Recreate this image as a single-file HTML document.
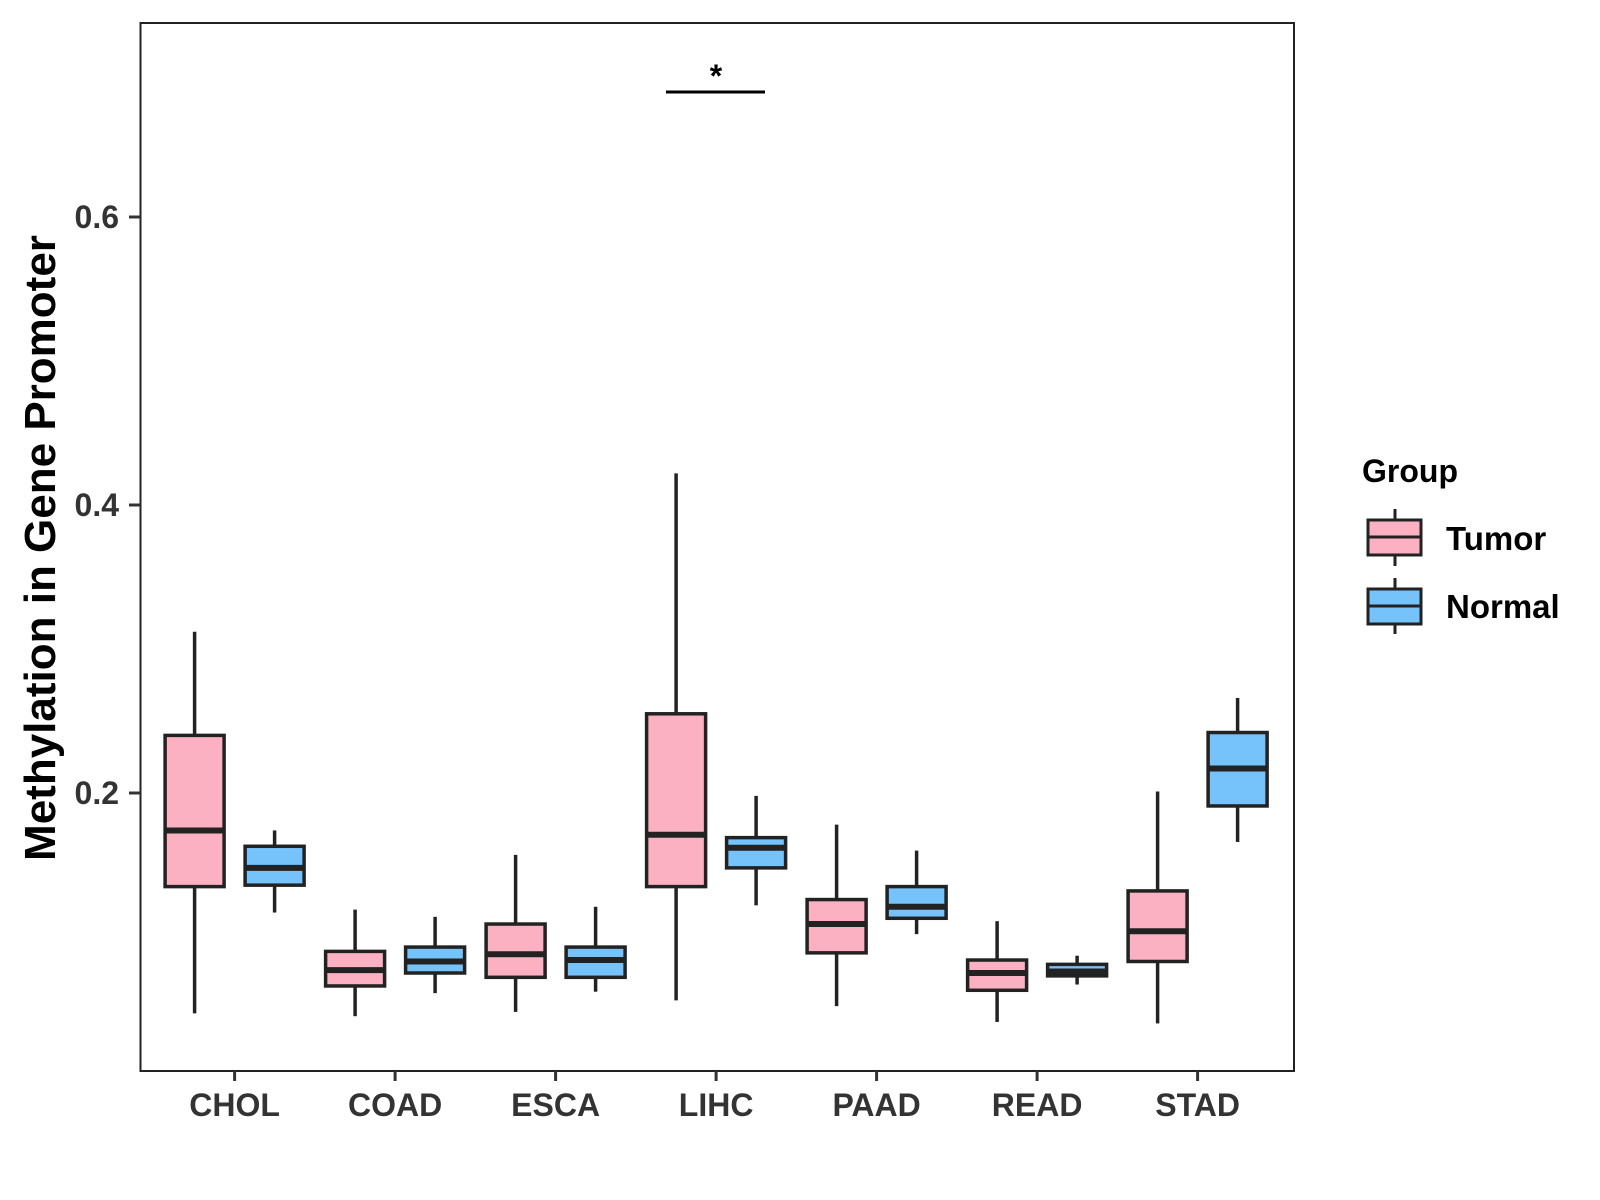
<!DOCTYPE html>
<html><head><meta charset="utf-8"><style>
html,body{margin:0;padding:0;background:#fff;}
svg{display:block;font-family:"Liberation Sans",Arial,sans-serif;}
</style></head><body>
<svg id="chart" width="1600" height="1200" xmlns="http://www.w3.org/2000/svg">
<rect x="140.5" y="23" width="1153.5" height="1048" fill="#fff" stroke="#222" stroke-width="2"/>
<g id="marks"></g>
<g id="axes"></g>
<g>
<line x1="666" y1="92" x2="765" y2="92" stroke="#000" stroke-width="3"/>
<text x="716" y="87" text-anchor="middle" font-size="32" font-weight="bold">*</text>
</g>
<text transform="translate(55,548) rotate(-90)" text-anchor="middle" font-size="44" font-weight="bold" fill="#000">Methylation in Gene Promoter</text>
<g>
<text x="1362" y="482" font-size="32" font-weight="bold">Group</text>
<g>
<line x1="1395" y1="509" x2="1395" y2="566" stroke="#222" stroke-width="3"/>
<rect x="1368" y="520" width="53" height="35" fill="#FCB1C3" stroke="#222" stroke-width="3"/>
<line x1="1368" y1="537" x2="1421" y2="537" stroke="#222" stroke-width="3"/>
<text x="1446" y="550" font-size="33" font-weight="bold">Tumor</text>
</g>
<g>
<line x1="1395" y1="578" x2="1395" y2="634" stroke="#222" stroke-width="3"/>
<rect x="1368" y="589" width="53" height="35" fill="#76C2FA" stroke="#222" stroke-width="3"/>
<line x1="1368" y1="606" x2="1421" y2="606" stroke="#222" stroke-width="3"/>
<text x="1446" y="618" font-size="33" font-weight="bold">Normal</text>
</g>
</g>
</svg>
<script>
const categories = ["CHOL","COAD","ESCA","LIHC","PAAD","READ","STAD"];
// [low, q1, median, q3, high]
const tumorStats = [
 [0.047,0.135,0.174,0.240,0.312],
 [0.045,0.066,0.077,0.090,0.119],
 [0.048,0.072,0.088,0.109,0.157],
 [0.056,0.135,0.171,0.255,0.422],
 [0.052,0.089,0.109,0.126,0.178],
 [0.041,0.063,0.075,0.084,0.111],
 [0.040,0.083,0.104,0.132,0.201]
];
const normalStats = [
 [0.117,0.136,0.148,0.163,0.174],
 [0.061,0.075,0.083,0.093,0.114],
 [0.062,0.072,0.084,0.093,0.121],
 [0.122,0.148,0.162,0.169,0.198],
 [0.102,0.113,0.121,0.135,0.160],
 [0.067,0.073,0.076,0.081,0.087],
 [0.166,0.191,0.217,0.242,0.266]
];
const yTicks = [0.2,0.4,0.6];
const yTickLabels = ["0.2","0.4","0.6"];

const NS="http://www.w3.org/2000/svg";
function yScale(v){ return 793 - (v-0.2)*1440; }
function xScale(i){ return 234.6 + 160.5*i; }
const marks=document.getElementById('marks');
const axes=document.getElementById('axes');
function mk(tag, attrs, parent){ const e=document.createElementNS(NS,tag); for(const k in attrs) e.setAttribute(k,attrs[k]); parent.appendChild(e); return e; }

function drawBox(s, cx, fill, name){
  const g=mk('g',{},marks);
  
  
  const w=59;
  mk('line',{x1:cx,x2:cx,y1:yScale(s[4]),y2:yScale(s[3]),stroke:'#222','stroke-width':3.5},g);
  mk('line',{x1:cx,x2:cx,y1:yScale(s[1]),y2:yScale(s[0]),stroke:'#222','stroke-width':3.5},g);
  mk('rect',{x:cx-w/2,y:yScale(s[3]),width:w,height:yScale(s[1])-yScale(s[3]),fill:fill,stroke:'#222','stroke-width':3.5},g);
  mk('line',{x1:cx-w/2,x2:cx+w/2,y1:yScale(s[2]),y2:yScale(s[2]),stroke:'#222','stroke-width':6},g);
}
categories.forEach((c,i)=>{
  drawBox(tumorStats[i], xScale(i)-40, '#FCB1C3', 'box-tumor-'+c.toLowerCase());
  drawBox(normalStats[i], xScale(i)+40, '#76C2FA', 'box-normal-'+c.toLowerCase());
  const t=mk('line',{x1:xScale(i),x2:xScale(i),y1:1071,y2:1081,stroke:'#333','stroke-width':3},axes);
  
  
  const l=mk('text',{x:xScale(i),y:1116,'text-anchor':'middle','font-size':32,'font-weight':'bold',fill:'#333'},axes);
  l.textContent=c;
  
  
});
yTicks.forEach((v,i)=>{
  const t=mk('line',{x1:129,x2:140.5,y1:yScale(v),y2:yScale(v),stroke:'#333','stroke-width':3},axes);
  
  
  const l=mk('text',{x:119,y:yScale(v)+11,'text-anchor':'end','font-size':32,'font-weight':'bold',fill:'#333'},axes);
  l.textContent=yTickLabels[i];
  
  
});
</script>
</body></html>
